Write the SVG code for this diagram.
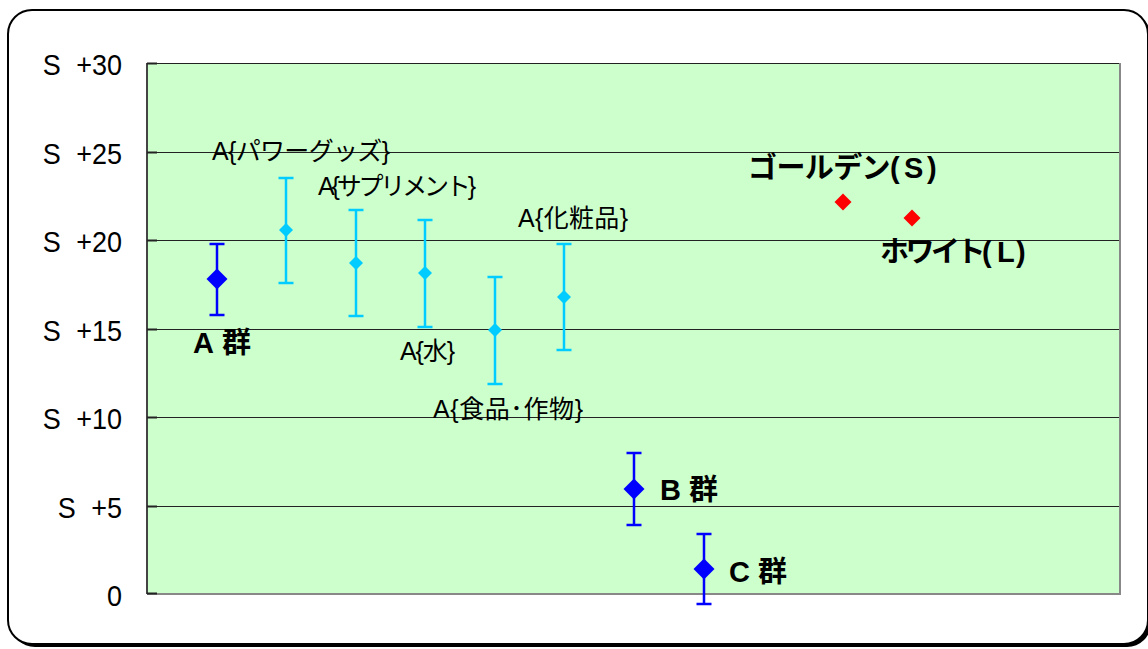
<svg xmlns="http://www.w3.org/2000/svg" width="1148" height="649" viewBox="0 0 1148 649">
<style>
.ax{font-family:"Liberation Sans","Noto Sans CJK JP",sans-serif;font-size:30px;fill:#000;text-anchor:end;word-spacing:9px}
.lb{font-family:"Liberation Sans","Noto Sans CJK JP",sans-serif;font-size:25px;fill:#000}
.bd{font-family:"Liberation Sans","Noto Sans CJK JP",sans-serif;font-size:29px;font-weight:bold;fill:#000}
.grid{stroke:#222;stroke-width:1;fill:none}
.tick{stroke:#222;stroke-width:2;fill:none}
.eb{fill:none;stroke-width:2.5}
.blue{stroke:#0000FF}
.cyan{stroke:#00CCFF}
</style>
<defs>
<path id="dB" d="M0,-10.5L10.5,0L0,10.5L-10.5,0Z"/>
<path id="dC" d="M0,-7L7,0L0,7L-7,0Z"/>
<path id="dR" d="M0,-8.5L8.5,0L0,8.5L-8.5,0Z"/>
</defs>
<g id="frame">
<rect x="11" y="13" width="1140" height="634" rx="24" fill="#000"/>
<rect x="8" y="10" width="1140" height="634" rx="24" fill="#fff" stroke="#000" stroke-width="2"/>
</g>
<g id="plot">
<rect x="147" y="63" width="973" height="531" fill="#CCFFCC"/>
<path class="grid" d="M147,63.5H1120M147,152.5H1120M147,240.5H1120M147,329.5H1120M147,417.5H1120M147,506.5H1120"/>
<path d="M1120,63V595M147,594H1121" stroke="#888" stroke-width="2" fill="none"/>
<path d="M147,63V594" stroke="#444" stroke-width="2" fill="none"/>
<path class="tick" d="M147,63.5h10M147,152.5h10M147,240.5h10M147,329.5h10M147,417.5h10M147,506.5h10M147,593.5h10"/>
</g>
<g id="yaxis" transform="matrix(0.9,0,0,1,12.2,0)">
<text class="ax" x="122" y="75">S +30</text>
<text class="ax" x="122" y="164">S +25</text>
<text class="ax" x="122" y="252">S +20</text>
<text class="ax" x="122" y="341">S +15</text>
<text class="ax" x="122" y="429">S +10</text>
<text class="ax" x="122" y="518">S +5</text>
<text class="ax" x="122" y="606">0</text>
</g>
<g id="errorbars">
<path class="eb blue" d="M217,244V315M209.5,244h15M209.5,315h15"/>
<path class="eb cyan" d="M286,178V283M278.5,178h15M278.5,283h15"/>
<path class="eb cyan" d="M356,210V316M348.5,210h15M348.5,316h15"/>
<path class="eb cyan" d="M425,220V327M417.5,220h15M417.5,327h15"/>
<path class="eb cyan" d="M495,277V384M487.5,277h15M487.5,384h15"/>
<path class="eb cyan" d="M564,244V350M556.5,244h15M556.5,350h15"/>
<path class="eb blue" d="M634,453V525M626.5,453h15M626.5,525h15"/>
<path class="eb blue" d="M704,534V604M696.5,534h15M696.5,604h15"/>
</g>
<g id="groupA">
<use href="#dB" x="217" y="279" fill="#0000FF"/>
<text class="bd" x="193" y="353" textLength="58">A 群</text>
</g>
<g id="powergoods">
<use href="#dC" x="286" y="230" fill="#00CCFF"/>
<text class="lb" x="212" y="160" textLength="178">A{パワーグッズ}</text>
</g>
<g id="supplement">
<use href="#dC" x="356" y="263" fill="#00CCFF"/>
<text class="lb" x="318" y="195" textLength="158">A{サプリメント}</text>
</g>
<g id="water">
<use href="#dC" x="425" y="273" fill="#00CCFF"/>
<text class="lb" x="400" y="360" textLength="55">A{水}</text>
</g>
<g id="food">
<use href="#dC" x="495" y="330" fill="#00CCFF"/>
<text class="lb" x="433" y="418" textLength="150">A{食品･作物}</text>
</g>
<g id="cosmetics">
<use href="#dC" x="564" y="297" fill="#00CCFF"/>
<text class="lb" x="518" y="227" textLength="110">A{化粧品}</text>
</g>
<g id="groupB">
<use href="#dB" x="634" y="489" fill="#0000FF"/>
<text class="bd" x="660" y="500" textLength="58">B 群</text>
</g>
<g id="groupC">
<use href="#dB" x="704" y="569" fill="#0000FF"/>
<text class="bd" x="729" y="582" textLength="58">C 群</text>
</g>
<g id="golden">
<use href="#dR" x="843" y="202" fill="#FF0000"/>
<text class="bd" x="748" y="178" font-size="28"><tspan letter-spacing="-0.6">ゴールデン</tspan><tspan x="890">(</tspan><tspan x="904">S</tspan><tspan x="927">)</tspan></text>
</g>
<g id="white">
<use href="#dR" x="912" y="218" fill="#FF0000"/>
<text class="bd" x="880" y="262" font-size="28"><tspan letter-spacing="-3.5">ホワイト</tspan><tspan x="982">(</tspan><tspan x="997">L</tspan><tspan x="1016">)</tspan></text>
</g>
</svg>
